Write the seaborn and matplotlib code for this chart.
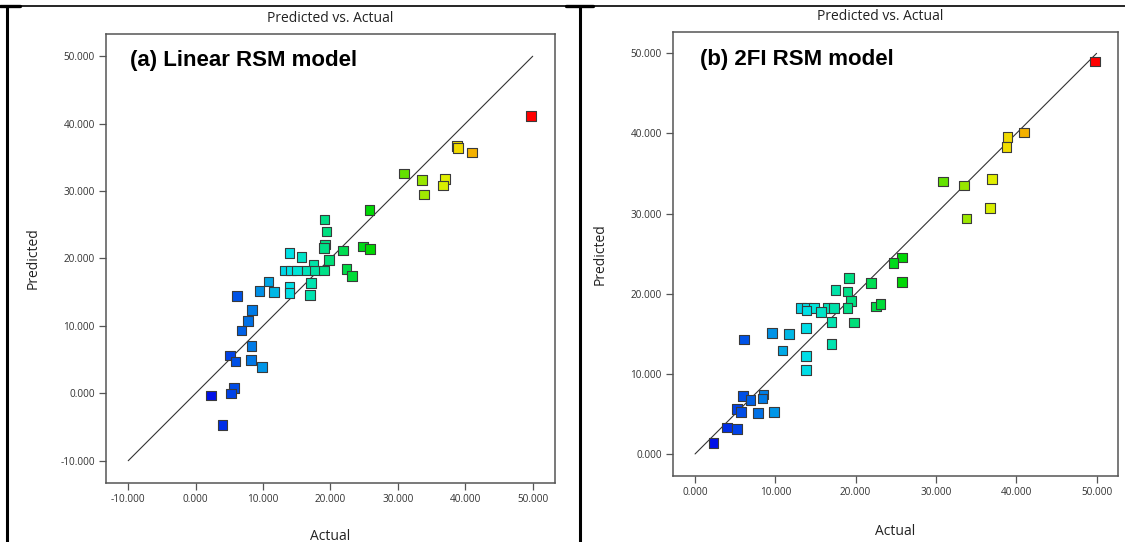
import matplotlib
matplotlib.use("Agg")
import matplotlib.pyplot as plt
from matplotlib.colors import LinearSegmentedColormap, Normalize
from matplotlib.lines import Line2D
import seaborn as sns
import pandas as pd

# (a) Linear RSM model
actual_a = [49.7, 38.8, 38.9, 41.0, 30.9, 33.6, 33.9, 37.0, 36.7, 25.8, 19.1, 19.4, 19.2,
            19.0, 21.9, 24.8, 25.9, 19.8, 17.5, 13.9, 15.7, 13.3, 14.1, 15.0, 16.5, 17.7,
            19.0, 22.4, 23.2, 17.1, 13.9, 13.9, 17.0, 10.8, 9.5, 11.6, 6.1, 8.4, 7.8, 6.8,
            8.3, 5.1, 5.9, 8.2, 9.8, 5.7, 5.2, 2.3, 4.0]
pred_a = [41.1, 36.7, 36.4, 35.7, 32.6, 31.6, 29.5, 31.8, 30.8, 27.2, 25.8, 24.0, 22.1,
          21.6, 21.2, 21.8, 21.4, 19.8, 19.1, 20.8, 20.2, 18.2, 18.2, 18.2, 18.2, 18.2,
          18.2, 18.4, 17.4, 16.4, 15.8, 14.9, 14.6, 16.6, 15.2, 15.0, 14.4, 12.4, 10.7, 9.3,
          7.0, 5.6, 4.7, 4.9, 3.9, 0.8, 0.0, -0.3, -4.7]

# (b) 2FI RSM model
actual_b = [49.8, 41.0, 38.9, 38.8, 37.0, 36.7, 33.8, 33.5, 30.9, 25.8, 24.7, 25.8, 21.9,
            19.2, 17.5, 19.0, 19.4, 19.0, 22.5, 23.1, 13.2, 13.9, 14.8, 16.5, 17.3, 13.9,
            15.7, 17.0, 19.8, 13.8, 9.6, 11.7, 6.1, 10.9, 17.0, 13.8, 13.8, 8.5, 8.4, 6.0,
            6.9, 5.2, 5.7, 7.8, 9.85, 4.0, 5.2, 2.3]
pred_b = [49.0, 40.1, 39.6, 38.3, 34.3, 30.7, 29.4, 33.5, 34.0, 24.5, 23.8, 21.5, 21.3,
          22.0, 20.5, 20.3, 19.1, 18.25, 18.4, 18.7, 18.25, 18.25, 18.25, 18.25, 18.25, 17.9,
          17.7, 16.5, 16.4, 15.75, 15.1, 15.0, 14.3, 12.9, 13.7, 12.2, 10.5, 7.4, 6.9, 7.2,
          6.7, 5.6, 5.25, 5.1, 5.25, 3.3, 3.1, 1.4]

line_a = [-10, 50]
line_b = [0, 50]
ticks_a = [-10, 0, 10, 20, 30, 40, 50]
ticks_b = [0, 10, 20, 30, 40, 50]
labels = ["(a) Linear RSM model", "(b) 2FI RSM model"]

sns.set_style("white")
plt.rcParams['font.family'] = ['Open Sans', 'DejaVu Sans']

cmap = LinearSegmentedColormap.from_list(
    "de", [(0.0, "#0010e8"), (0.25, "#00e6e6"), (0.5, "#00d800"),
           (0.75, "#f0f000"), (1.0, "#ff0000")])
norm = Normalize(vmin=2.3, vmax=49.8)

fig = plt.figure(figsize=(11.25, 5.42), dpi=100)
ax1 = fig.add_axes([0.0942, 0.1089, 0.3991, 0.8284])
ax2 = fig.add_axes([0.5982, 0.1218, 0.3956, 0.8192])

# axes, data, diagonal, ticks, limits, panel label, label pos, xlabel y, ylabel x
panels = [
    (ax1, actual_a, pred_a, line_a, ticks_a, (-13.3, 53.3), labels[0], (0.053, 0.942), -0.103, -0.145),
    (ax2, actual_b, pred_b, line_b, ticks_b, (-2.75, 52.67), labels[1], (0.061, 0.937), -0.108, -0.146),
]

for ax, act, pred, line, ticks, lim, lab, pos, xly, ylx in panels:
    df = pd.DataFrame({"Actual": act, "Predicted": pred})
    ax.plot(line, line, color="#333333", lw=0.8, zorder=1)
    sns.scatterplot(data=df, x="Actual", y="Predicted", hue="Actual", palette=cmap,
                    hue_norm=norm, marker="s", s=48, edgecolor="#3a3a3a", linewidth=0.8,
                    legend=False, ax=ax, zorder=2)
    ax.set_xlim(lim)
    ax.set_ylim(lim)
    ax.set_xticks(ticks)
    ax.set_yticks(ticks)
    ax.set_xticklabels([f"{t:.3f}" for t in ticks])
    ax.set_yticklabels([f"{t:.3f}" for t in ticks])
    ax.tick_params(axis="both", which="both", direction="out", length=5, width=0.9,
                   color="#555555", labelsize=7.2, labelcolor="#333333", pad=3,
                   bottom=True, left=True, top=False, right=False)
    for sp in ax.spines.values():
        sp.set_color("#555555")
        sp.set_linewidth(1.1)
    ax.set_xlabel("Actual", fontsize=10, color="#222222")
    ax.set_ylabel("Predicted", fontsize=10, color="#222222")
    ax.xaxis.set_label_coords(0.5, xly)
    ax.yaxis.set_label_coords(ylx, 0.5)
    ax.text(pos[0], pos[1], lab, transform=ax.transAxes, ha="left", va="center",
            fontsize=16, fontweight="bold", family="Liberation Sans", color="black")

fig.text(330 / 1125, 1 - 19 / 542, "Predicted vs. Actual", ha="center", va="center",
         fontsize=10, color="#222222")
fig.text(880 / 1125, 1 - 17 / 542, "Predicted vs. Actual", ha="center", va="center",
         fontsize=10, color="#222222")

# outer table frame
W, H = 1125, 542
fig.add_artist(Line2D([0, 1], [1 - 6 / H, 1 - 6 / H], color="black", lw=1.2))
fig.add_artist(Line2D([7 / W, 7 / W], [0, 1 - 6 / H], color="black", lw=2.2))
fig.add_artist(Line2D([580 / W, 580 / W], [0, 1 - 6 / H], color="black", lw=2.2))
fig.add_artist(Line2D([0, 20 / W], [1 - 6 / H, 1 - 6 / H], color="black", lw=2.4))
fig.add_artist(Line2D([566 / W, 593 / W], [1 - 6 / H, 1 - 6 / H], color="black", lw=2.4))

fig.savefig("out.png", dpi=100)
